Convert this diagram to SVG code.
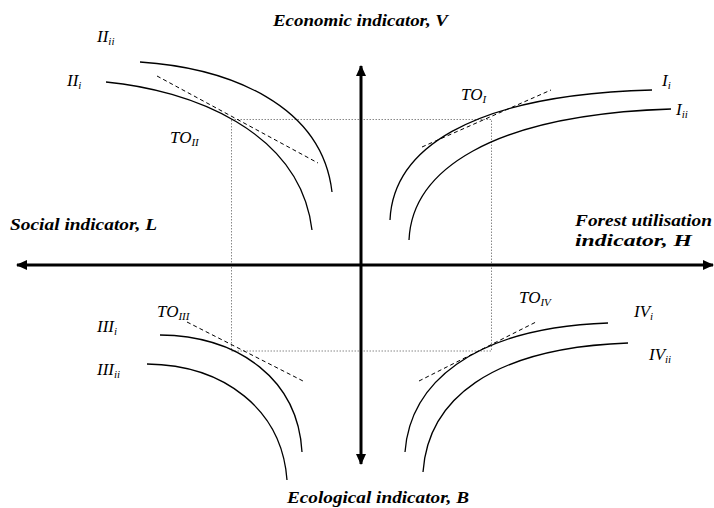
<svg xmlns="http://www.w3.org/2000/svg" width="714" height="508" viewBox="0 0 714 508">
<style>
.ax{stroke:#000;stroke-width:3;fill:none}
.cv{stroke:#000;stroke-width:1.3;fill:none}
.tg{stroke:#000;stroke-width:1;fill:none;stroke-dasharray:4 3}
.dt{stroke:#888;stroke-width:1;fill:none;stroke-dasharray:1.5 1.5}
text{font-family:'Liberation Serif','DejaVu Serif',serif}
.lb{font-style:italic;font-size:17px;fill:#000}
.sb{font-size:11px}
.at{font-style:italic;font-weight:bold;font-size:17px;fill:#000}
.at2{font-size:16px}
</style>
<defs>
<marker id="ah" markerUnits="userSpaceOnUse" markerWidth="12" markerHeight="10" refX="10" refY="5" orient="auto">
<path d="M0,0 L11,5 L0,10 Z" fill="#000"/>
</marker>
</defs>
<g id="guides">
<rect class="dt" x="231.5" y="119.5" width="260" height="231.5"/>
</g>
<g id="connectors">
<line class="ax" x1="361" y1="265" x2="361" y2="66" marker-end="url(#ah)"/>
<line class="ax" x1="361" y1="265" x2="361" y2="464" marker-end="url(#ah)"/>
<line class="ax" x1="361" y1="265" x2="17" y2="265" marker-end="url(#ah)"/>
<line class="ax" x1="361" y1="265" x2="713" y2="265" marker-end="url(#ah)"/>
</g>
<g id="axis-labels">
<text class="at" x="273" y="26" textLength="175" lengthAdjust="spacingAndGlyphs">Economic indicator, V</text>
<text class="at" x="10" y="230" textLength="147" lengthAdjust="spacingAndGlyphs">Social indicator, L</text>
<text class="at at2" x="575" y="226" textLength="137" lengthAdjust="spacingAndGlyphs">Forest utilisation</text>
<text class="at at2" x="575" y="246" textLength="117" lengthAdjust="spacingAndGlyphs">indicator, H</text>
<text class="at" x="287" y="503" textLength="182" lengthAdjust="spacingAndGlyphs">Ecological indicator, B</text>
</g>
<g id="quadrant-I">
<path class="cv" d="M390,220 C393,152 465,95 652,90"/>
<path class="cv" d="M409,240 C412,172 488,115 671,109"/>
<line class="tg" x1="422" y1="147" x2="551" y2="90"/>
<text class="lb" x="461" y="100">TO<tspan class="sb" dy="3">I</tspan></text>
<text class="lb" x="662" y="86">I<tspan class="sb" dy="3">i</tspan></text>
<text class="lb" x="676" y="115">I<tspan class="sb" dy="3">ii</tspan></text>
</g>
<g id="quadrant-II">
<path class="cv" d="M106,82 C190,90 300,130 312,230"/>
<path class="cv" d="M140,62 C230,68 322,105 332,192"/>
<line class="tg" x1="157" y1="76" x2="318" y2="163"/>
<text class="lb" x="170" y="143">TO<tspan class="sb" dy="3">II</tspan></text>
<text class="lb" x="97" y="42">II<tspan class="sb" dy="3">ii</tspan></text>
<text class="lb" x="67" y="86">II<tspan class="sb" dy="3">i</tspan></text>
</g>
<g id="quadrant-III">
<path class="cv" d="M160,335 C240,336 298,380 302,452"/>
<path class="cv" d="M147,364 C225,365 282,410 287,480"/>
<line class="tg" x1="187" y1="322" x2="303" y2="381"/>
<text class="lb" x="157" y="317">TO<tspan class="sb" dy="3">III</tspan></text>
<text class="lb" x="97" y="332">III<tspan class="sb" dy="3">i</tspan></text>
<text class="lb" x="97" y="375">III<tspan class="sb" dy="3">ii</tspan></text>
</g>
<g id="quadrant-IV">
<path class="cv" d="M405,452 C410,385 470,328 608,323"/>
<path class="cv" d="M423,472 C428,400 490,348 628,343"/>
<line class="tg" x1="419" y1="381" x2="536" y2="322"/>
<text class="lb" x="519" y="303">TO<tspan class="sb" dy="3">IV</tspan></text>
<text class="lb" x="634" y="317">IV<tspan class="sb" dy="3">i</tspan></text>
<text class="lb" x="649" y="360">IV<tspan class="sb" dy="3">ii</tspan></text>
</g>
</svg>
